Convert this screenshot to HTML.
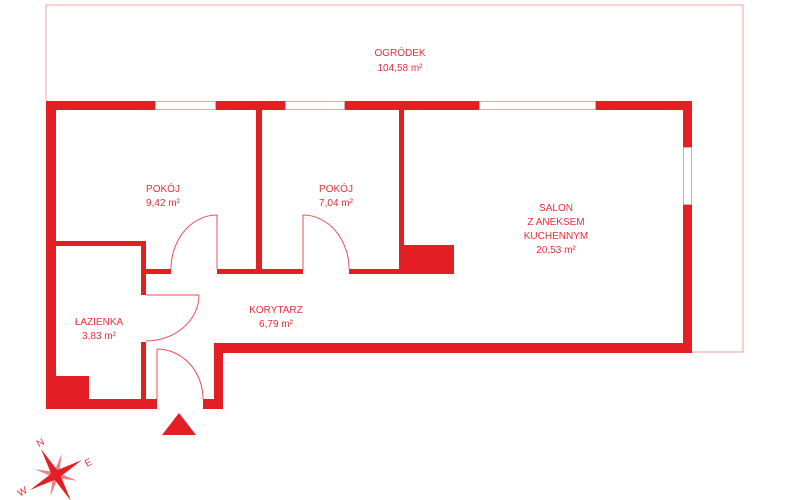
<!DOCTYPE html>
<html><head><meta charset="utf-8"><style>
html,body{margin:0;padding:0;background:#fff;}
svg{display:block}
text{font-family:"Liberation Sans",sans-serif;font-size:10px;fill:#e3303a;text-anchor:middle}
</style></head><body>
<svg width="790" height="500" viewBox="0 0 790 500">
<g fill="none" stroke="#f0a0a4" stroke-width="1">
<polyline points="46,101 46,5 743,5 743,352 692,352"/>
</g>
<g fill="#e31e24">
<rect x="46" y="101" width="109" height="9"/>
<rect x="216" y="101" width="69" height="9"/>
<rect x="345" y="101" width="134" height="9"/>
<rect x="596" y="101" width="96" height="9"/>
<rect x="683" y="101" width="9" height="46"/>
<rect x="683" y="205" width="9" height="148"/>
<rect x="214" y="343" width="478" height="10"/>
<rect x="214" y="343" width="9" height="66"/>
<rect x="203" y="399" width="20" height="10"/>
<rect x="46" y="101" width="10" height="308"/>
<rect x="46" y="399" width="111" height="10"/>
<rect x="56" y="376" width="33" height="23"/>
<rect x="56" y="241" width="90" height="5"/>
<rect x="141" y="241" width="5" height="54"/>
<rect x="141" y="342" width="5" height="57"/>
<rect x="146" y="269" width="25" height="5"/>
<rect x="217" y="269" width="86" height="5"/>
<rect x="349" y="269" width="105" height="5"/>
<rect x="256" y="110" width="6" height="164"/>
<rect x="399" y="110" width="5" height="164"/>
<rect x="399" y="245" width="55" height="29"/>
<polygon points="179,413 162,435 196,435"/>
</g>
<g fill="none" stroke="#f0a0a4" stroke-width="1">
<rect x="155.5" y="101.5" width="60" height="8"/>
<rect x="285.5" y="101.5" width="59" height="8"/>
<rect x="479.5" y="101.5" width="116" height="8"/>
<rect x="683.5" y="147.5" width="8" height="57"/>
</g>
<g fill="none" stroke="#e8505a" stroke-width="1">
<line x1="217" y1="215" x2="217" y2="269"/>
<path d="M217,215 A46,54 0 0 0 171,269"/>
<line x1="303" y1="215" x2="303" y2="269"/>
<path d="M303,215 A46,54 0 0 1 349,269"/>
<line x1="146" y1="295" x2="199" y2="295"/>
<path d="M199,295 A53,46 0 0 1 146,341"/>
<line x1="157" y1="349" x2="157" y2="399"/>
<path d="M157,349 A46,50 0 0 1 203,399"/>
</g>
<text x="400" y="56">OGRÓDEK</text>
<text x="400" y="71">104,58 m²</text>
<text x="163" y="192">POKÓJ</text>
<text x="163" y="206">9,42 m²</text>
<text x="336" y="192">POKÓJ</text>
<text x="336" y="206">7,04 m²</text>
<text x="556" y="211">SALON</text>
<text x="556" y="225">Z ANEKSEM</text>
<text x="556" y="239">KUCHENNYM</text>
<text x="556" y="253">20,53 m²</text>
<text x="276" y="313">KORYTARZ</text>
<text x="276" y="327">6,79 m²</text>
<text x="99" y="325">ŁAZIENKA</text>
<text x="99" y="339">3,83 m²</text>
<g transform="translate(56,475) rotate(-30)">
<g fill="#f08088">
<polygon points="0,-22 3,0 -3,0" transform="rotate(45)"/>
<polygon points="0,-22 3,0 -3,0" transform="rotate(135)"/>
<polygon points="0,-22 3,0 -3,0" transform="rotate(225)"/>
<polygon points="0,-22 3,0 -3,0" transform="rotate(315)"/>
</g>
<g fill="#e31e24">
<polygon points="0,-30 4,0 -4,0"/>
<polygon points="0,-30 4,0 -4,0" transform="rotate(90)"/>
<polygon points="0,-30 4,0 -4,0" transform="rotate(180)"/>
<polygon points="0,-30 4,0 -4,0" transform="rotate(270)"/>
</g>
</g>
<text x="40" y="446" transform="rotate(-30 40 442)">N</text>
<text x="88" y="466" transform="rotate(-30 88 462)">E</text>
<text x="22" y="495" transform="rotate(-30 22 491)">W</text>
</svg>
</body></html>
